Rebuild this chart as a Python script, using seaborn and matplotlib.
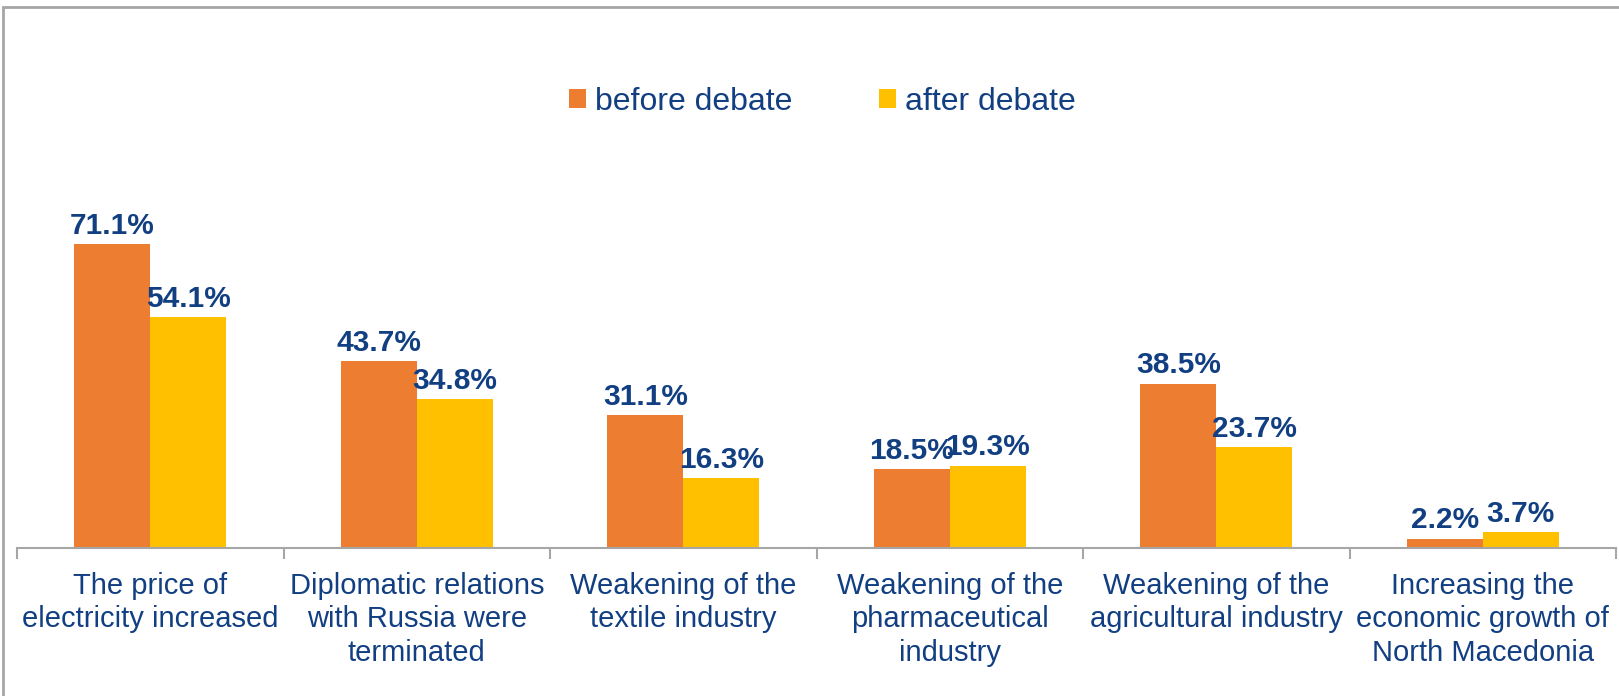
import pandas as pd
import matplotlib.pyplot as plt
import seaborn as sns
from matplotlib.patches import Rectangle

# -----------------------------
# DATA
# -----------------------------
categories = [
    "The price of\nelectricity increased",
    "Diplomatic relations\nwith Russia were\nterminated",
    "Weakening of the\ntextile industry",
    "Weakening of the\npharmaceutical\nindustry",
    "Weakening of the\nagricultural industry",
    "Increasing the\neconomic growth of\nNorth Macedonia",
]
before_debate = [71.1, 43.7, 31.1, 18.5, 38.5, 2.2]
after_debate = [54.1, 34.8, 16.3, 19.3, 23.7, 3.7]
series_names = ["before debate", "after debate"]

# -----------------------------
# STYLE
# -----------------------------
sns.set_theme(style="white")
plt.rcParams["font.family"] = ["Liberation Sans", "DejaVu Sans"]

TEXT_COLOR = "#123F82"
COLORS = ["#ED7D31", "#FFC000"]

df = pd.DataFrame({
    "category": categories * 2,
    "value": before_debate + after_debate,
    "period": [series_names[0]] * len(categories) + [series_names[1]] * len(categories),
})

# -----------------------------
# PLOT
# -----------------------------
W, H = 1619, 696
fig = plt.figure(figsize=(W / 100, H / 100), dpi=100)
ax = fig.add_axes([17 / W, 148 / H, (1616 - 17) / W, (548 - 140) / H])

sns.barplot(
    data=df, x="category", y="value", hue="period",
    palette=COLORS, width=0.57, gap=0, saturation=1,
    edgecolor="none", ax=ax
)

ax.set_ylim(0, 95.5)
ax.set_xlim(-0.5, len(categories) - 0.5)
ax.set_xlabel("")
ax.set_ylabel("")
ax.set_yticks([])

for spine in ["top", "right", "left"]:
    ax.spines[spine].set_visible(False)
ax.spines["bottom"].set_color("#A6A6A6")
ax.spines["bottom"].set_linewidth(1.5)

# category ticks in between groups
ax.set_xticks(range(len(categories)))
ax.set_xticklabels(categories, fontsize=21, color=TEXT_COLOR, linespacing=1.26, va="top")
ax.tick_params(axis="x", which="major", length=0, pad=17)
ax.set_xticks([i - 0.5 for i in range(len(categories) + 1)], minor=True)
ax.tick_params(axis="x", which="minor", length=8, width=1.5, color="#A6A6A6", bottom=True)

# value labels
for container in ax.containers:
    ax.bar_label(
        container, fmt="%.1f%%", padding=3,
        fontsize=21.5, fontweight="bold", color=TEXT_COLOR
    )

# legend
leg = ax.legend(
    loc="center", bbox_to_anchor=(0.508, 1 - 102 / H), bbox_transform=fig.transFigure,
    ncol=2, frameon=False, fontsize=23, handlelength=0.52, handleheight=0.52,
    handletextpad=0.3, columnspacing=2.7
)
for t in leg.get_texts():
    t.set_color(TEXT_COLOR)

# outer frame of the chart area
fig.patches.append(Rectangle(
    (3 / W, -0.1), 1.1, 1 - 7 / H + 0.1, transform=fig.transFigure,
    fill=False, edgecolor="#A6A6A6", linewidth=2, figure=fig
))

fig.savefig("out.png", dpi=100)
